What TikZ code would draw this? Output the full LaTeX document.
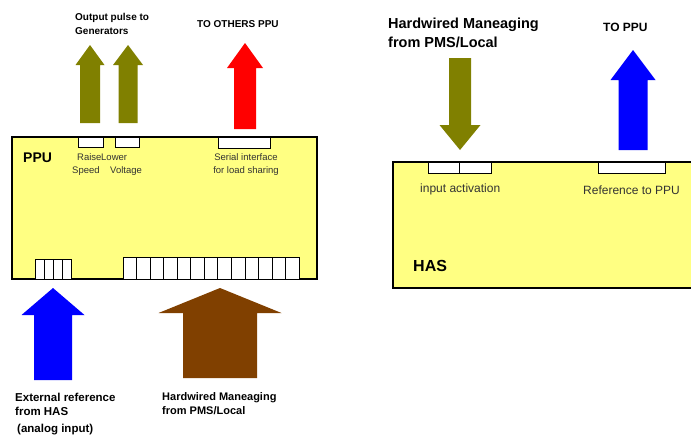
\documentclass[tikz,border=0pt]{standalone}
\usepackage{fontspec}
\setmainfont{Liberation Sans}
\definecolor{boxyellow}{RGB}{255,255,130}
\definecolor{olivearrow}{RGB}{128,128,0}
\definecolor{brownarrow}{RGB}{128,64,0}
\definecolor{redarrow}{RGB}{255,0,0}
\definecolor{bluearrow}{RGB}{0,0,255}
\newcommand\blkarrow[7]{% colour, cx, tip y, head base y, end y, half shaft, half head
  \fill[#1] (#2,#3) -- (#2+#7,#4) -- (#2+#6,#4) -- (#2+#6,#5) -- (#2-#6,#5) -- (#2-#6,#4) -- (#2-#7,#4) -- cycle;}
\tikzset{
  unitbox/.style={draw=black, line width=1.3pt, fill=boxyellow, inner sep=0pt},
  port/.style={draw=black, line width=0.8pt, fill=white, inner sep=0pt},
  lbl/.style={inner sep=0pt, align=left, text=black},
  portlbl/.style={inner sep=0pt, text=black!80},
}
\begin{document}
\begin{tikzpicture}[x=1pt,y=-1pt]
\useasboundingbox (0,0) rectangle (691,434);
\clip (0,0) rectangle (691,434);
% units
\node[unitbox, minimum width=305pt, minimum height=142pt] (ppu) at (164.5,208) {};
\node[unitbox, minimum width=310pt, minimum height=126pt] (has) at (548,225) {};
% ports on PPU
\node[port, minimum width=25pt, minimum height=10pt] (raise) at (90.5,142) {};
\node[port, minimum width=24pt, minimum height=10pt] (lower) at (127,142) {};
\node[port, minimum width=52pt, minimum height=11pt] (serial) at (244,142.5) {};
\node[port, minimum width=36pt, minimum height=20pt] (analog) at (53,269) {};
\foreach \x in {44,53,62} \draw[line width=0.6pt] (\x,259) -- (\x,279);
\node[port, minimum width=176pt, minimum height=22pt] (hwin) at (211,268) {};
\foreach \i in {1,...,12} \draw[line width=0.6pt] (123+\i*13.54,257) -- (123+\i*13.54,279);
% ports on HAS
\node[port, minimum width=63pt, minimum height=11pt] (inact) at (459.5,167.5) {};
\draw[line width=0.8pt] (459,162) -- (459,173);
\node[port, minimum width=67pt, minimum height=11pt] (refppu) at (631.5,167.5) {};
% arrows
\blkarrow{olivearrow}{90}{45}{65}{123}{10}{14.5}
\blkarrow{olivearrow}{128}{45}{65}{123}{9.5}{15}
\blkarrow{redarrow}{245}{43}{68}{129}{11}{18}
\blkarrow{bluearrow}{53}{288}{315}{380}{19}{31.5}
\blkarrow{brownarrow}{220}{288}{313}{378}{37}{61.5}
\blkarrow{olivearrow}{460}{150}{125}{58}{11}{20.5}
\blkarrow{bluearrow}{633}{50}{80}{150}{14.5}{22.5}
% texts
\node[lbl, anchor=north west, font=\bfseries\fontsize{10}{14}\selectfont] (outtxt) at (75,13) {Output pulse to\\Generators};
\node[lbl, anchor=base west, font=\bfseries\fontsize{10}{12}\selectfont] (othtxt) at (197,27.6) {TO OTHERS PPU};
\node[lbl, anchor=base west, font=\bfseries\fontsize{14}{16}\selectfont] (ppulbl) at (23,162) {PPU};
\node[portlbl, anchor=base west, font=\fontsize{9.5}{11}\selectfont] (raisetxt) at (77,160.5) {Raise};
\node[portlbl, anchor=base west, font=\fontsize{9.5}{11}\selectfont] (lowertxt) at (101,160.5) {Lower};
\node[portlbl, anchor=base west, font=\fontsize{9.5}{11}\selectfont] (speedtxt) at (72,173.5) {Speed};
\node[portlbl, anchor=base west, font=\fontsize{9.5}{11}\selectfont] (volttxt) at (110,173.5) {Voltage};
\node[portlbl, anchor=north, align=center, font=\fontsize{9.5}{13}\selectfont] (sertxt) at (246,153.5) {Serial interface\\for load sharing};
\node[lbl, anchor=north west, font=\bfseries\fontsize{11.5}{14}\selectfont] (exttxt) at (15,393) {External reference\\from HAS};
\node[lbl, anchor=base west, font=\bfseries\fontsize{11.5}{14}\selectfont] (anatxt) at (17,432) {(analog input)};
\node[lbl, anchor=north west, font=\bfseries\fontsize{11}{14}\selectfont] (hwtxt) at (162,392) {Hardwired Maneaging\\from PMS/Local};
\node[lbl, anchor=north west, font=\bfseries\fontsize{14.5}{19}\selectfont] (hwtxt2) at (388,18) {Hardwired Maneaging\\from PMS/Local};
\node[lbl, anchor=base west, font=\bfseries\fontsize{12}{14}\selectfont] (toppu) at (603,31.3) {TO PPU};
\node[portlbl, anchor=base west, font=\fontsize{12}{14}\selectfont] (inacttxt) at (420,192) {input activation};
\node[portlbl, anchor=base west, font=\fontsize{12}{14}\selectfont] (reftxt) at (583,194.3) {Reference to PPU};
\node[lbl, anchor=base west, font=\bfseries\fontsize{16}{18}\selectfont] (haslbl) at (413,271) {HAS};
\end{tikzpicture}
\end{document}
